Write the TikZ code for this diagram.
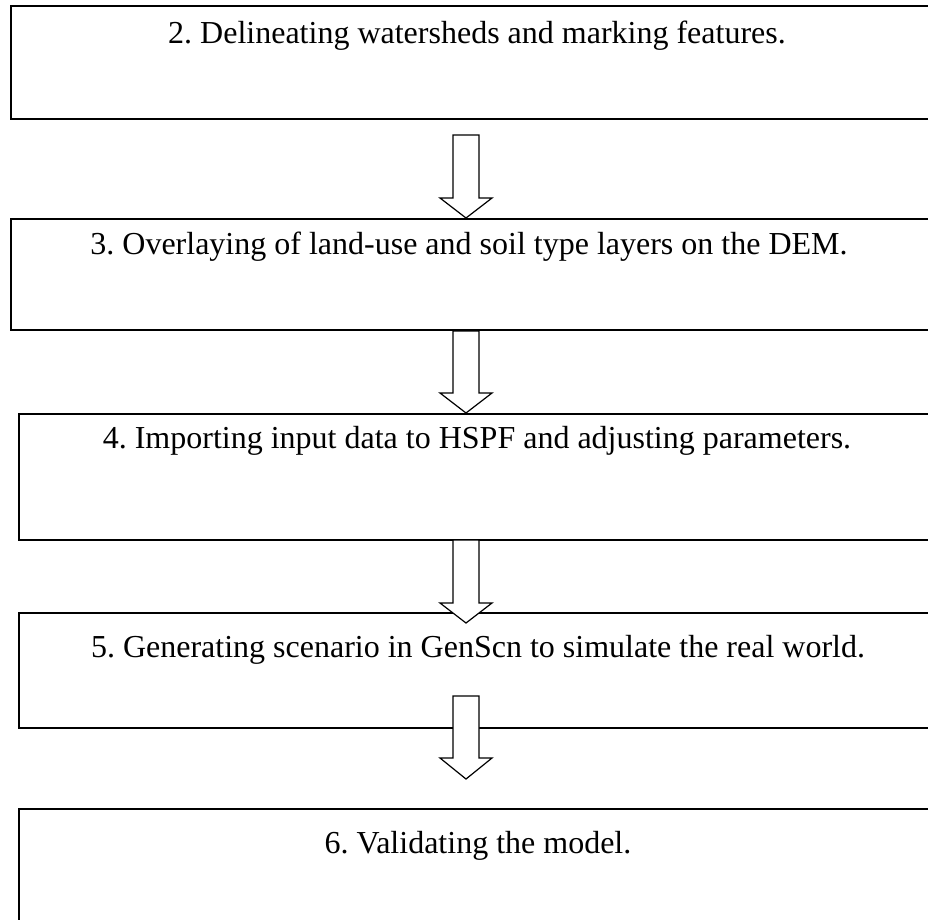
\documentclass[tikz,border=0pt]{standalone}
\usepackage{fontspec}
\setmainfont{Liberation Serif}
\usetikzlibrary{fit,calc}
\tikzset{
  box/.style={draw=black, line width=1.6pt, fill=none, inner sep=0pt, rectangle},
  lbl/.style={anchor=base, inner sep=0pt, font=\fontsize{32}{38}\selectfont},
  blockarr/.style={draw=black, fill=white, line width=1.2pt, line join=miter}
}
\newcommand{\myblockarrow}[5]{% name, x, top, head, tip
  \coordinate (#1top) at (#2,#3);
  \coordinate (#1tip) at (#2,#5);
  \draw[blockarr] ($(#1top)+(-13,0)$) -- ($(#1top)+(13,0)$) -- (#2+13,#4) -- (#2+26,#4) -- (#1tip) -- (#2-26,#4) -- (#2-13,#4) -- cycle;
}
\begin{document}
\frenchspacing
\begin{tikzpicture}[x=1pt,y=-1pt]
\useasboundingbox (0,0) rectangle (928,919);
\begin{scope}
\clip (0,0) rectangle (928,919);
\coordinate (b1a) at (11,6);   \coordinate (b1b) at (945,119);
\coordinate (b2a) at (11,219); \coordinate (b2b) at (945,330);
\coordinate (b3a) at (19,414); \coordinate (b3b) at (945,540);
\coordinate (b4a) at (19,613); \coordinate (b4b) at (945,728);
\coordinate (b5a) at (19,809); \coordinate (b5b) at (945,940);
\node[box, fit=(b1a)(b1b)] (box1) {};
\node[box, fit=(b2a)(b2b)] (box2) {};
\node[box, fit=(b3a)(b3b)] (box3) {};
\node[box, fit=(b4a)(b4b)] (box4) {};
\node[box, fit=(b5a)(b5b)] (box5) {};
\node[lbl] (t1) at (477,43) {2. Delineating watersheds and marking features.};
\node[lbl] (t2) at (469,254) {3. Overlaying of land-use and soil type layers on the DEM.};
\node[lbl] (t3) at (477,448) {4. Importing input data to HSPF and adjusting parameters.};
\node[lbl] (t4) at (478,657) {5. Generating scenario in GenScn to simulate the real world.};
\node[lbl] (t5) at (478,853) {6. Validating the model.};
\myblockarrow{a1}{466}{135}{198}{218}
\myblockarrow{a2}{466}{331}{393}{413}
\myblockarrow{a3}{466}{540}{603}{623}
\myblockarrow{a4}{466}{696}{758}{779}
\end{scope}
\end{tikzpicture}
\end{document}
